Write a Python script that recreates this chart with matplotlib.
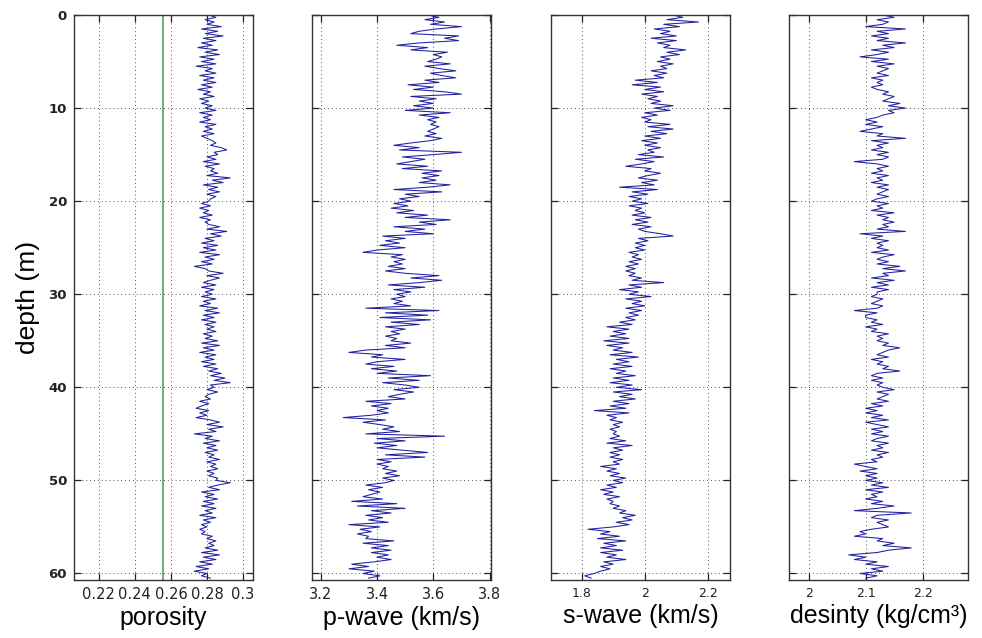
import numpy as np
import matplotlib
matplotlib.use("Agg")
import matplotlib.pyplot as plt

# depth samples (m), 0 .. 60.5 every 0.25 m
depth_step = 0.25
n_samples = 243

porosity = [
    0.281, 0.285, 0.279, 0.284, 0.280, 0.288, 0.277, 0.286, 0.279, 0.289,
    0.278, 0.285, 0.277, 0.283, 0.275, 0.286, 0.279, 0.287, 0.276, 0.284,
    0.277, 0.285, 0.274, 0.283, 0.279, 0.285, 0.276, 0.284, 0.278, 0.285,
    0.277, 0.283, 0.275, 0.282, 0.278, 0.284, 0.276, 0.281, 0.277, 0.283,
    0.279, 0.285, 0.276, 0.283, 0.278, 0.282, 0.276, 0.285, 0.279, 0.283,
    0.278, 0.284, 0.277, 0.280, 0.283, 0.285, 0.282, 0.288, 0.291, 0.284,
    0.286, 0.280, 0.285, 0.278, 0.287, 0.279, 0.284, 0.282, 0.286, 0.280,
    0.293, 0.283, 0.289, 0.278, 0.286, 0.281, 0.287, 0.280, 0.285, 0.282,
    0.281, 0.277, 0.282, 0.276, 0.281, 0.278, 0.283, 0.276, 0.282, 0.279,
    0.281, 0.287, 0.280, 0.291, 0.282, 0.288, 0.279, 0.284, 0.277, 0.286,
    0.278, 0.285, 0.276, 0.287, 0.279, 0.284, 0.277, 0.283, 0.273, 0.279,
    0.281, 0.289, 0.280, 0.287, 0.282, 0.278, 0.285, 0.277, 0.284, 0.279,
    0.283, 0.277, 0.285, 0.278, 0.282, 0.276, 0.286, 0.279, 0.287, 0.278,
    0.284, 0.277, 0.285, 0.279, 0.284, 0.280, 0.285, 0.278, 0.283, 0.279,
    0.286, 0.277, 0.287, 0.278, 0.284, 0.276, 0.285, 0.279, 0.284, 0.277,
    0.285, 0.278, 0.286, 0.281, 0.288, 0.282, 0.290, 0.284, 0.293, 0.282,
    0.284, 0.280, 0.286, 0.281, 0.279, 0.282, 0.276, 0.281, 0.277, 0.274,
    0.281, 0.276, 0.280, 0.274, 0.282, 0.287, 0.280, 0.289, 0.281, 0.285,
    0.273, 0.283, 0.279, 0.287, 0.278, 0.285, 0.280, 0.286, 0.279, 0.284,
    0.281, 0.287, 0.280, 0.285, 0.282, 0.286, 0.280, 0.284, 0.281, 0.286,
    0.285, 0.293, 0.286, 0.281, 0.287, 0.277, 0.284, 0.279, 0.286, 0.278,
    0.284, 0.277, 0.285, 0.279, 0.283, 0.276, 0.285, 0.278, 0.282, 0.277,
    0.280, 0.276, 0.279, 0.277, 0.283, 0.280, 0.285, 0.281, 0.284, 0.279,
    0.286, 0.277, 0.287, 0.278, 0.285, 0.276, 0.283, 0.274, 0.281, 0.273,
    0.280, 0.277, 0.282,
]
porosity_ref = 0.2557

p_wave = [
    3.58, 3.62, 3.57, 3.64, 3.59, 3.70, 3.61, 3.55, 3.52, 3.69,
    3.64, 3.69, 3.55, 3.47, 3.58, 3.52, 3.65, 3.60, 3.63, 3.61,
    3.58, 3.66, 3.57, 3.62, 3.68, 3.59, 3.63, 3.68, 3.57, 3.62,
    3.51, 3.60, 3.53, 3.64, 3.70, 3.52, 3.61, 3.55, 3.60, 3.53,
    3.60, 3.50, 3.66, 3.55, 3.62, 3.58, 3.61, 3.59, 3.62, 3.60,
    3.58, 3.61, 3.57, 3.63, 3.59, 3.52, 3.46, 3.55, 3.48, 3.70,
    3.60, 3.49, 3.57, 3.52, 3.47, 3.58, 3.49, 3.63, 3.56, 3.62,
    3.56, 3.61, 3.55, 3.66, 3.58, 3.46, 3.63, 3.50, 3.55, 3.48,
    3.52, 3.46, 3.51, 3.45, 3.53, 3.47, 3.58, 3.50, 3.66, 3.55,
    3.61, 3.46, 3.57, 3.50, 3.60, 3.42, 3.50, 3.43, 3.48, 3.41,
    3.50, 3.40, 3.35, 3.49, 3.45, 3.50, 3.46, 3.49, 3.44, 3.50,
    3.43, 3.50, 3.62, 3.52, 3.63, 3.55, 3.44, 3.57, 3.46, 3.52,
    3.47, 3.50, 3.45, 3.49, 3.46, 3.52, 3.36, 3.62, 3.43, 3.58,
    3.41, 3.59, 3.45, 3.55, 3.43, 3.50, 3.45, 3.48, 3.43, 3.47,
    3.45, 3.52, 3.43, 3.50, 3.36, 3.30, 3.42, 3.38, 3.50, 3.40,
    3.36, 3.46, 3.38, 3.47, 3.40, 3.59, 3.44, 3.55, 3.42, 3.50,
    3.55, 3.46, 3.53, 3.48, 3.44, 3.50, 3.36, 3.45, 3.38, 3.44,
    3.40, 3.44, 3.38, 3.28, 3.43, 3.35, 3.41, 3.46, 3.42, 3.48,
    3.36, 3.64, 3.40, 3.50, 3.39, 3.47, 3.40, 3.49, 3.58, 3.43,
    3.57, 3.40, 3.45, 3.40, 3.44, 3.42, 3.47, 3.43, 3.48, 3.42,
    3.46, 3.43, 3.36, 3.42, 3.37, 3.41, 3.38, 3.35, 3.42, 3.31,
    3.47, 3.33, 3.50, 3.38, 3.45, 3.36, 3.42, 3.37, 3.44, 3.30,
    3.41, 3.34, 3.38, 3.33, 3.37, 3.36, 3.46, 3.35, 3.44, 3.38,
    3.45, 3.38, 3.44, 3.40, 3.45, 3.39, 3.31, 3.37, 3.30, 3.39,
    3.35, 3.41, 3.37,
]

s_wave = [
    2.09, 2.12, 2.07, 2.17, 2.06, 2.11, 2.03, 2.08, 2.05, 2.10,
    2.02, 2.10, 2.04, 2.08, 2.06, 2.13, 2.07, 2.11, 2.05, 2.08,
    2.04, 2.09, 2.05, 2.07, 2.02, 2.07, 2.03, 2.06, 1.97, 2.04,
    1.96, 2.05, 2.00, 2.06, 1.99, 2.04, 2.01, 2.05, 2.02, 2.09,
    2.03, 2.08, 2.00, 2.04, 1.99, 2.02, 2.00, 2.08, 2.01, 2.09,
    2.02, 2.07, 2.00, 2.05, 1.99, 2.04, 2.00, 2.05, 2.01, 2.03,
    1.98, 2.06, 1.97, 2.03, 1.99, 1.94, 2.02, 2.00, 2.05, 2.01,
    1.98, 2.04, 1.99, 2.03, 1.92, 2.04, 1.96, 2.01, 1.95, 1.99,
    1.96, 2.01, 1.95, 1.99, 1.97, 2.00, 1.96, 2.02, 1.97, 2.01,
    1.96, 2.02, 1.98, 2.00, 2.05, 2.09, 1.98, 2.01, 1.97, 2.00,
    1.97, 2.00, 1.95, 1.98, 1.96, 1.99, 1.95, 1.98, 1.94, 1.97,
    1.94, 1.97, 1.95, 1.99, 1.96, 2.06, 1.95, 1.99, 1.92, 1.98,
    1.95, 2.02, 1.94, 1.99, 1.96, 2.00, 1.94, 1.99, 1.95, 1.98,
    1.94, 1.97, 1.92, 1.96, 1.88, 1.95, 1.90, 1.94, 1.89, 1.95,
    1.87, 1.95, 1.88, 1.93, 1.90, 1.96, 1.89, 1.98, 1.91, 1.95,
    1.90, 1.96, 1.89, 1.94, 1.91, 1.97, 1.90, 1.95, 1.89, 1.96,
    1.91, 1.99, 1.90, 1.96, 1.92, 1.97, 1.90, 1.95, 1.89, 1.94,
    1.84, 1.95, 1.88, 1.91, 1.89, 1.93, 1.90, 1.92, 1.89, 1.91,
    1.90, 1.92, 1.89, 1.94, 1.88, 1.96, 1.90, 1.93, 1.89, 1.92,
    1.89, 1.93, 1.90, 1.92, 1.86, 1.91, 1.88, 1.92, 1.89, 1.94,
    1.90, 1.93, 1.88, 1.91, 1.86, 1.90, 1.87, 1.92, 1.88, 1.90,
    1.89, 1.92, 1.90, 1.94, 1.92, 1.97, 1.93, 1.96, 1.91, 1.95,
    1.90, 1.82, 1.89, 1.86, 1.92, 1.85, 1.94, 1.87, 1.91, 1.86,
    1.93, 1.86, 1.91, 1.88, 1.94, 1.87, 1.90, 1.86, 1.89, 1.86,
    1.84, 1.81, 1.83,
]

density = [
    2.13, 2.15, 2.12, 2.14, 2.13, 2.10, 2.17, 2.12, 2.14, 2.11,
    2.14, 2.12, 2.17, 2.13, 2.15, 2.11, 2.14, 2.12, 2.09, 2.14,
    2.11, 2.15, 2.12, 2.14, 2.13, 2.12, 2.14, 2.11, 2.13, 2.12,
    2.13, 2.11, 2.12, 2.14, 2.13, 2.15, 2.14, 2.13, 2.16, 2.14,
    2.17, 2.14, 2.15, 2.13, 2.12, 2.10, 2.12, 2.10, 2.13, 2.11,
    2.09, 2.13, 2.12, 2.17, 2.11, 2.14, 2.12, 2.13, 2.11, 2.14,
    2.12, 2.14, 2.13, 2.08, 2.12, 2.14, 2.12, 2.13, 2.11, 2.14,
    2.12, 2.13, 2.11, 2.14, 2.12, 2.14, 2.13, 2.12, 2.14, 2.12,
    2.11, 2.14, 2.12, 2.13, 2.11, 2.15, 2.12, 2.14, 2.13, 2.15,
    2.13, 2.14, 2.12, 2.17, 2.09, 2.13, 2.11, 2.14, 2.12, 2.13,
    2.12, 2.14, 2.11, 2.15, 2.13, 2.12, 2.14, 2.12, 2.16, 2.13,
    2.17, 2.13, 2.14, 2.11, 2.15, 2.12, 2.14, 2.11, 2.14, 2.12,
    2.12, 2.11, 2.13, 2.12, 2.11, 2.13, 2.12, 2.08, 2.12, 2.10,
    2.10, 2.12, 2.11, 2.13, 2.10, 2.12, 2.11, 2.14, 2.12, 2.13,
    2.12, 2.14, 2.13, 2.16, 2.14, 2.13, 2.12, 2.14, 2.11, 2.13,
    2.12, 2.14, 2.13, 2.16, 2.12, 2.11, 2.13, 2.11, 2.13, 2.12,
    2.13, 2.15, 2.12, 2.14, 2.13, 2.12, 2.14, 2.11, 2.13, 2.10,
    2.12, 2.10, 2.13, 2.11, 2.14, 2.10, 2.12, 2.14, 2.11, 2.13,
    2.11, 2.14, 2.12, 2.11, 2.14, 2.12, 2.13, 2.11, 2.14, 2.12,
    2.13, 2.11, 2.12, 2.08, 2.10, 2.12, 2.09, 2.12, 2.10, 2.12,
    2.10, 2.13, 2.11, 2.14, 2.10, 2.13, 2.11, 2.12, 2.10, 2.13,
    2.11, 2.15, 2.12, 2.08, 2.18, 2.12, 2.11, 2.14, 2.12, 2.13,
    2.14, 2.11, 2.09, 2.10, 2.08, 2.13, 2.12, 2.15, 2.13, 2.18,
    2.14, 2.12, 2.07, 2.10, 2.08, 2.12, 2.10, 2.14, 2.11, 2.13,
    2.09, 2.12, 2.10,
]

xlabels = ["porosity", "p-wave (km/s)", "s-wave (km/s)", "desinty (kg/cm\u00b3)"]
xticks = [[0.22, 0.24, 0.26, 0.28, 0.30], [3.2, 3.4, 3.6, 3.8], [1.8, 2.0, 2.2], [2.0, 2.1, 2.2]]
xticklabels = [["0.22", "0.24", "0.26", "0.28", "0.3"], ["3.2", "3.4", "3.6", "3.8"],
               ["1.8", "2", "2.2"], ["2", "2.1", "2.2"]]
xlims = [(0.2062, 0.3056), (3.169, 3.805), (1.703, 2.27), (1.965, 2.28)]
yticks = [0, 10, 20, 30, 40, 50, 60]

depth = np.arange(n_samples) * depth_step
series = [porosity, p_wave, s_wave, density]

W, H = 982, 638
fig = plt.figure(figsize=(W / 100, H / 100), dpi=100)
lefts_px = [74, 312, 551, 789]
ax_w, top_px, bot_px = 179, 15, 580

line_color = "#2020a0"
tick_fs = [10.5, 10.5, 9, 9]
for i, vals in enumerate(series):
    ax = fig.add_axes([lefts_px[i] / W, 1 - bot_px / H, ax_w / W, (bot_px - top_px) / H])
    ax.plot(vals, depth, color=line_color, lw=0.75)
    if i == 0:
        ax.axvline(porosity_ref, color="#3f9f45", lw=1.1)
    ax.set_xlim(*xlims[i])
    ax.set_ylim(60.7, 0)
    ax.set_xticks(xticks[i])
    ax.set_xticklabels(xticklabels[i], fontsize=tick_fs[i], family="DejaVu Sans")
    ax.set_yticks(yticks)
    if i == 0:
        ax.set_yticklabels([str(v) for v in yticks], fontsize=9.5, fontweight="bold",
                           family="DejaVu Sans")
        ax.set_ylabel("depth (m)", fontsize=19, family="Liberation Sans", labelpad=6)
    else:
        ax.set_yticklabels([])
    ax.set_xlabel(xlabels[i], fontsize=18, family="Liberation Sans", labelpad=3)
    ax.grid(True, color="#555555", lw=0.7, linestyle=(0, (1, 3)))
    ax.tick_params(direction="in", length=5, width=0.9, top=True, right=True,
                   colors="#222222", pad=5)
    for sp in ax.spines.values():
        sp.set_color("#333333")
        sp.set_linewidth(1.0)

fig.savefig("out.png", dpi=100, facecolor="white")
